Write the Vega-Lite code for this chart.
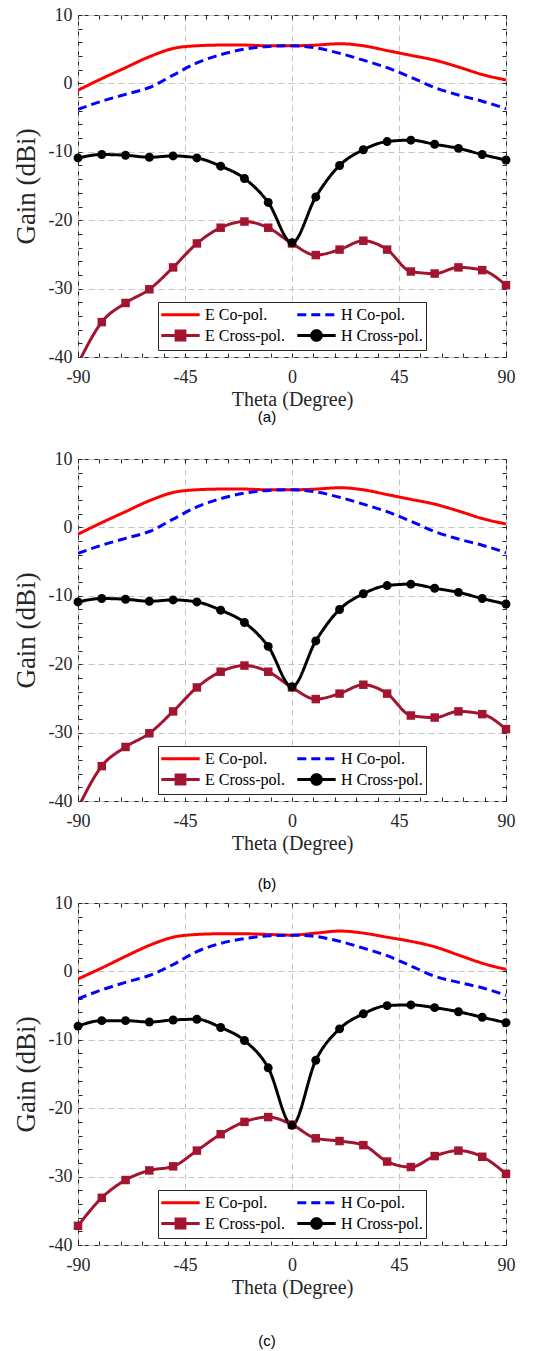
{
  "$schema": "https://vega.github.io/schema/vega-lite/v6.json",
  "padding": {"left": 11, "top": 5, "right": 5, "bottom": 0},
  "bounds": "flush",
  "spacing": 102,
  "resolve": {"scale": {"color": "independent", "strokeDash": "independent"}, "legend": {"color": "independent"}},
  "datasets": {
    "a": [
      {"theta": -90, "gain": -1.0, "series": "E Co-pol."}, {"theta": -80, "gain": 0.7, "series": "E Co-pol."}, {"theta": -70, "gain": 2.3, "series": "E Co-pol."}, {"theta": -60, "gain": 3.9, "series": "E Co-pol."}, {"theta": -50, "gain": 5.1, "series": "E Co-pol."}, {"theta": -40, "gain": 5.5, "series": "E Co-pol."}, {"theta": -30, "gain": 5.6, "series": "E Co-pol."}, {"theta": -20, "gain": 5.6, "series": "E Co-pol."}, {"theta": -10, "gain": 5.5, "series": "E Co-pol."}, {"theta": 0, "gain": 5.5, "series": "E Co-pol."}, {"theta": 10, "gain": 5.6, "series": "E Co-pol."}, {"theta": 20, "gain": 5.8, "series": "E Co-pol."}, {"theta": 30, "gain": 5.5, "series": "E Co-pol."}, {"theta": 40, "gain": 4.8, "series": "E Co-pol."}, {"theta": 50, "gain": 4.1, "series": "E Co-pol."}, {"theta": 60, "gain": 3.4, "series": "E Co-pol."}, {"theta": 70, "gain": 2.4, "series": "E Co-pol."}, {"theta": 80, "gain": 1.3, "series": "E Co-pol."}, {"theta": 90, "gain": 0.5, "series": "E Co-pol."},
      {"theta": -90, "gain": -3.8, "series": "H Co-pol."}, {"theta": -80, "gain": -2.6, "series": "H Co-pol."}, {"theta": -70, "gain": -1.6, "series": "H Co-pol."}, {"theta": -60, "gain": -0.6, "series": "H Co-pol."}, {"theta": -50, "gain": 1.2, "series": "H Co-pol."}, {"theta": -40, "gain": 3.0, "series": "H Co-pol."}, {"theta": -30, "gain": 4.2, "series": "H Co-pol."}, {"theta": -20, "gain": 5.0, "series": "H Co-pol."}, {"theta": -10, "gain": 5.4, "series": "H Co-pol."}, {"theta": 0, "gain": 5.5, "series": "H Co-pol."}, {"theta": 10, "gain": 5.2, "series": "H Co-pol."}, {"theta": 20, "gain": 4.4, "series": "H Co-pol."}, {"theta": 30, "gain": 3.4, "series": "H Co-pol."}, {"theta": 40, "gain": 2.3, "series": "H Co-pol."}, {"theta": 50, "gain": 0.9, "series": "H Co-pol."}, {"theta": 60, "gain": -0.6, "series": "H Co-pol."}, {"theta": 70, "gain": -1.7, "series": "H Co-pol."}, {"theta": 80, "gain": -2.6, "series": "H Co-pol."}, {"theta": 90, "gain": -3.7, "series": "H Co-pol."},
      {"theta": -90, "gain": -41, "series": "E Cross-pol."}, {"theta": -80, "gain": -34.9, "series": "E Cross-pol."}, {"theta": -70, "gain": -32.1, "series": "E Cross-pol."}, {"theta": -60, "gain": -30.1, "series": "E Cross-pol."}, {"theta": -50, "gain": -26.9, "series": "E Cross-pol."}, {"theta": -40, "gain": -23.4, "series": "E Cross-pol."}, {"theta": -30, "gain": -21.1, "series": "E Cross-pol."}, {"theta": -20, "gain": -20.2, "series": "E Cross-pol."}, {"theta": -10, "gain": -21.1, "series": "E Cross-pol."}, {"theta": 0, "gain": -23.4, "series": "E Cross-pol."}, {"theta": 10, "gain": -25.1, "series": "E Cross-pol."}, {"theta": 20, "gain": -24.3, "series": "E Cross-pol."}, {"theta": 30, "gain": -23.0, "series": "E Cross-pol."}, {"theta": 40, "gain": -24.3, "series": "E Cross-pol."}, {"theta": 50, "gain": -27.5, "series": "E Cross-pol."}, {"theta": 60, "gain": -27.8, "series": "E Cross-pol."}, {"theta": 70, "gain": -26.9, "series": "E Cross-pol."}, {"theta": 80, "gain": -27.3, "series": "E Cross-pol."}, {"theta": 90, "gain": -29.5, "series": "E Cross-pol."},
      {"theta": -90, "gain": -10.9, "series": "H Cross-pol."}, {"theta": -80, "gain": -10.4, "series": "H Cross-pol."}, {"theta": -70, "gain": -10.5, "series": "H Cross-pol."}, {"theta": -60, "gain": -10.8, "series": "H Cross-pol."}, {"theta": -50, "gain": -10.6, "series": "H Cross-pol."}, {"theta": -40, "gain": -10.9, "series": "H Cross-pol."}, {"theta": -30, "gain": -12.1, "series": "H Cross-pol."}, {"theta": -20, "gain": -13.9, "series": "H Cross-pol."}, {"theta": -10, "gain": -17.4, "series": "H Cross-pol."}, {"theta": 0, "gain": -23.3, "series": "H Cross-pol."}, {"theta": 10, "gain": -16.6, "series": "H Cross-pol."}, {"theta": 20, "gain": -12.0, "series": "H Cross-pol."}, {"theta": 30, "gain": -9.7, "series": "H Cross-pol."}, {"theta": 40, "gain": -8.5, "series": "H Cross-pol."}, {"theta": 50, "gain": -8.3, "series": "H Cross-pol."}, {"theta": 60, "gain": -8.9, "series": "H Cross-pol."}, {"theta": 70, "gain": -9.5, "series": "H Cross-pol."}, {"theta": 80, "gain": -10.4, "series": "H Cross-pol."}, {"theta": 90, "gain": -11.2, "series": "H Cross-pol."}
    ],
    "b": [
      {"theta": -90, "gain": -1.0, "series": "E Co-pol."}, {"theta": -80, "gain": 0.7, "series": "E Co-pol."}, {"theta": -70, "gain": 2.3, "series": "E Co-pol."}, {"theta": -60, "gain": 3.9, "series": "E Co-pol."}, {"theta": -50, "gain": 5.1, "series": "E Co-pol."}, {"theta": -40, "gain": 5.5, "series": "E Co-pol."}, {"theta": -30, "gain": 5.6, "series": "E Co-pol."}, {"theta": -20, "gain": 5.6, "series": "E Co-pol."}, {"theta": -10, "gain": 5.5, "series": "E Co-pol."}, {"theta": 0, "gain": 5.5, "series": "E Co-pol."}, {"theta": 10, "gain": 5.6, "series": "E Co-pol."}, {"theta": 20, "gain": 5.8, "series": "E Co-pol."}, {"theta": 30, "gain": 5.5, "series": "E Co-pol."}, {"theta": 40, "gain": 4.8, "series": "E Co-pol."}, {"theta": 50, "gain": 4.1, "series": "E Co-pol."}, {"theta": 60, "gain": 3.4, "series": "E Co-pol."}, {"theta": 70, "gain": 2.4, "series": "E Co-pol."}, {"theta": 80, "gain": 1.3, "series": "E Co-pol."}, {"theta": 90, "gain": 0.5, "series": "E Co-pol."},
      {"theta": -90, "gain": -3.8, "series": "H Co-pol."}, {"theta": -80, "gain": -2.6, "series": "H Co-pol."}, {"theta": -70, "gain": -1.6, "series": "H Co-pol."}, {"theta": -60, "gain": -0.6, "series": "H Co-pol."}, {"theta": -50, "gain": 1.2, "series": "H Co-pol."}, {"theta": -40, "gain": 3.0, "series": "H Co-pol."}, {"theta": -30, "gain": 4.2, "series": "H Co-pol."}, {"theta": -20, "gain": 5.0, "series": "H Co-pol."}, {"theta": -10, "gain": 5.4, "series": "H Co-pol."}, {"theta": 0, "gain": 5.5, "series": "H Co-pol."}, {"theta": 10, "gain": 5.2, "series": "H Co-pol."}, {"theta": 20, "gain": 4.4, "series": "H Co-pol."}, {"theta": 30, "gain": 3.4, "series": "H Co-pol."}, {"theta": 40, "gain": 2.3, "series": "H Co-pol."}, {"theta": 50, "gain": 0.9, "series": "H Co-pol."}, {"theta": 60, "gain": -0.6, "series": "H Co-pol."}, {"theta": 70, "gain": -1.7, "series": "H Co-pol."}, {"theta": 80, "gain": -2.6, "series": "H Co-pol."}, {"theta": 90, "gain": -3.7, "series": "H Co-pol."},
      {"theta": -90, "gain": -41, "series": "E Cross-pol."}, {"theta": -80, "gain": -34.9, "series": "E Cross-pol."}, {"theta": -70, "gain": -32.1, "series": "E Cross-pol."}, {"theta": -60, "gain": -30.1, "series": "E Cross-pol."}, {"theta": -50, "gain": -26.9, "series": "E Cross-pol."}, {"theta": -40, "gain": -23.4, "series": "E Cross-pol."}, {"theta": -30, "gain": -21.1, "series": "E Cross-pol."}, {"theta": -20, "gain": -20.2, "series": "E Cross-pol."}, {"theta": -10, "gain": -21.1, "series": "E Cross-pol."}, {"theta": 0, "gain": -23.4, "series": "E Cross-pol."}, {"theta": 10, "gain": -25.1, "series": "E Cross-pol."}, {"theta": 20, "gain": -24.3, "series": "E Cross-pol."}, {"theta": 30, "gain": -23.0, "series": "E Cross-pol."}, {"theta": 40, "gain": -24.3, "series": "E Cross-pol."}, {"theta": 50, "gain": -27.5, "series": "E Cross-pol."}, {"theta": 60, "gain": -27.8, "series": "E Cross-pol."}, {"theta": 70, "gain": -26.9, "series": "E Cross-pol."}, {"theta": 80, "gain": -27.3, "series": "E Cross-pol."}, {"theta": 90, "gain": -29.5, "series": "E Cross-pol."},
      {"theta": -90, "gain": -10.9, "series": "H Cross-pol."}, {"theta": -80, "gain": -10.4, "series": "H Cross-pol."}, {"theta": -70, "gain": -10.5, "series": "H Cross-pol."}, {"theta": -60, "gain": -10.8, "series": "H Cross-pol."}, {"theta": -50, "gain": -10.6, "series": "H Cross-pol."}, {"theta": -40, "gain": -10.9, "series": "H Cross-pol."}, {"theta": -30, "gain": -12.1, "series": "H Cross-pol."}, {"theta": -20, "gain": -13.9, "series": "H Cross-pol."}, {"theta": -10, "gain": -17.4, "series": "H Cross-pol."}, {"theta": 0, "gain": -23.3, "series": "H Cross-pol."}, {"theta": 10, "gain": -16.6, "series": "H Cross-pol."}, {"theta": 20, "gain": -12.0, "series": "H Cross-pol."}, {"theta": 30, "gain": -9.7, "series": "H Cross-pol."}, {"theta": 40, "gain": -8.5, "series": "H Cross-pol."}, {"theta": 50, "gain": -8.3, "series": "H Cross-pol."}, {"theta": 60, "gain": -8.9, "series": "H Cross-pol."}, {"theta": 70, "gain": -9.5, "series": "H Cross-pol."}, {"theta": 80, "gain": -10.4, "series": "H Cross-pol."}, {"theta": 90, "gain": -11.2, "series": "H Cross-pol."}
    ],
    "c": [
      {"theta": -90, "gain": -1.1, "series": "E Co-pol."}, {"theta": -80, "gain": 0.5, "series": "E Co-pol."}, {"theta": -70, "gain": 2.2, "series": "E Co-pol."}, {"theta": -60, "gain": 3.8, "series": "E Co-pol."}, {"theta": -50, "gain": 5.0, "series": "E Co-pol."}, {"theta": -40, "gain": 5.4, "series": "E Co-pol."}, {"theta": -30, "gain": 5.5, "series": "E Co-pol."}, {"theta": -20, "gain": 5.5, "series": "E Co-pol."}, {"theta": -10, "gain": 5.4, "series": "E Co-pol."}, {"theta": 0, "gain": 5.3, "series": "E Co-pol."}, {"theta": 10, "gain": 5.6, "series": "E Co-pol."}, {"theta": 20, "gain": 5.9, "series": "E Co-pol."}, {"theta": 30, "gain": 5.6, "series": "E Co-pol."}, {"theta": 40, "gain": 5.0, "series": "E Co-pol."}, {"theta": 50, "gain": 4.4, "series": "E Co-pol."}, {"theta": 60, "gain": 3.6, "series": "E Co-pol."}, {"theta": 70, "gain": 2.4, "series": "E Co-pol."}, {"theta": 80, "gain": 1.2, "series": "E Co-pol."}, {"theta": 90, "gain": 0.3, "series": "E Co-pol."},
      {"theta": -90, "gain": -4.0, "series": "H Co-pol."}, {"theta": -80, "gain": -2.7, "series": "H Co-pol."}, {"theta": -70, "gain": -1.6, "series": "H Co-pol."}, {"theta": -60, "gain": -0.6, "series": "H Co-pol."}, {"theta": -50, "gain": 1.0, "series": "H Co-pol."}, {"theta": -40, "gain": 2.9, "series": "H Co-pol."}, {"theta": -30, "gain": 4.1, "series": "H Co-pol."}, {"theta": -20, "gain": 4.8, "series": "H Co-pol."}, {"theta": -10, "gain": 5.2, "series": "H Co-pol."}, {"theta": 0, "gain": 5.3, "series": "H Co-pol."}, {"theta": 10, "gain": 5.1, "series": "H Co-pol."}, {"theta": 20, "gain": 4.4, "series": "H Co-pol."}, {"theta": 30, "gain": 3.4, "series": "H Co-pol."}, {"theta": 40, "gain": 2.3, "series": "H Co-pol."}, {"theta": 50, "gain": 0.8, "series": "H Co-pol."}, {"theta": 60, "gain": -0.7, "series": "H Co-pol."}, {"theta": 70, "gain": -1.6, "series": "H Co-pol."}, {"theta": 80, "gain": -2.4, "series": "H Co-pol."}, {"theta": 90, "gain": -3.5, "series": "H Co-pol."},
      {"theta": -90, "gain": -37.2, "series": "E Cross-pol."}, {"theta": -80, "gain": -33.1, "series": "E Cross-pol."}, {"theta": -70, "gain": -30.5, "series": "E Cross-pol."}, {"theta": -60, "gain": -29.1, "series": "E Cross-pol."}, {"theta": -50, "gain": -28.5, "series": "E Cross-pol."}, {"theta": -40, "gain": -26.2, "series": "E Cross-pol."}, {"theta": -30, "gain": -23.8, "series": "E Cross-pol."}, {"theta": -20, "gain": -22.0, "series": "E Cross-pol."}, {"theta": -10, "gain": -21.3, "series": "E Cross-pol."}, {"theta": 0, "gain": -22.4, "series": "E Cross-pol."}, {"theta": 10, "gain": -24.4, "series": "E Cross-pol."}, {"theta": 20, "gain": -24.8, "series": "E Cross-pol."}, {"theta": 30, "gain": -25.4, "series": "E Cross-pol."}, {"theta": 40, "gain": -27.8, "series": "E Cross-pol."}, {"theta": 50, "gain": -28.6, "series": "E Cross-pol."}, {"theta": 60, "gain": -27.0, "series": "E Cross-pol."}, {"theta": 70, "gain": -26.2, "series": "E Cross-pol."}, {"theta": 80, "gain": -27.1, "series": "E Cross-pol."}, {"theta": 90, "gain": -29.6, "series": "E Cross-pol."},
      {"theta": -90, "gain": -8.0, "series": "H Cross-pol."}, {"theta": -80, "gain": -7.2, "series": "H Cross-pol."}, {"theta": -70, "gain": -7.2, "series": "H Cross-pol."}, {"theta": -60, "gain": -7.4, "series": "H Cross-pol."}, {"theta": -50, "gain": -7.1, "series": "H Cross-pol."}, {"theta": -40, "gain": -7.0, "series": "H Cross-pol."}, {"theta": -30, "gain": -8.2, "series": "H Cross-pol."}, {"theta": -20, "gain": -10.1, "series": "H Cross-pol."}, {"theta": -10, "gain": -14.1, "series": "H Cross-pol."}, {"theta": 0, "gain": -22.5, "series": "H Cross-pol."}, {"theta": 10, "gain": -13.0, "series": "H Cross-pol."}, {"theta": 20, "gain": -8.4, "series": "H Cross-pol."}, {"theta": 30, "gain": -6.2, "series": "H Cross-pol."}, {"theta": 40, "gain": -5.0, "series": "H Cross-pol."}, {"theta": 50, "gain": -4.9, "series": "H Cross-pol."}, {"theta": 60, "gain": -5.3, "series": "H Cross-pol."}, {"theta": 70, "gain": -5.9, "series": "H Cross-pol."}, {"theta": 80, "gain": -6.7, "series": "H Cross-pol."}, {"theta": 90, "gain": -7.5, "series": "H Cross-pol."}
    ]
  },
  "vconcat": [
    {
      "width": 428, "height": 342,
      "title": {"text": "(a)", "orient": "bottom", "anchor": "middle", "dx": -25, "offset": 1, "font": "Liberation Sans", "fontSize": 15, "fontWeight": "normal", "color": "#000000"},
      "data": {"name": "a"},
      "layer": [
        {"mark": {"type": "line", "interpolate": "monotone", "strokeWidth": 3, "clip": true},
         "encoding": {
           "x": {"field": "theta", "type": "quantitative", "scale": {"domain": [-90, 90], "nice": false},
                 "axis": {"orient": "bottom", "values": [-90,-81,-72,-63,-54,-45,-36,-27,-18,-9,0,9,18,27,36,45,54,63,72,81,90], "labelExpr": "datum.value % 45 === 0 ? '' + datum.value : ''", "title": "Theta (Degree)", "grid": true, "gridOpacity": {"condition": {"test": "datum.value % 45 === 0", "value": 1}, "value": 0}, "tickSize": -4, "domain": false, "labelFlush": false, "labelOverlap": false, "labelBound": false, "labelPadding": 15, "titlePadding": 3, "titleFontSize": 20}},
           "y": {"field": "gain", "type": "quantitative", "scale": {"domain": [-40, 10], "nice": false},
                 "axis": {"orient": "left", "values": [-40,-38,-36,-34,-32,-30,-28,-26,-24,-22,-20,-18,-16,-14,-12,-10,-8,-6,-4,-2,0,2,4,6,8,10], "labelExpr": "datum.value % 10 === 0 ? '' + datum.value : ''", "title": "Gain (dBi)", "grid": true, "gridOpacity": {"condition": {"test": "datum.value % 10 === 0", "value": 1}, "value": 0}, "tickSize": -4, "domain": false, "labelFlush": false, "labelOverlap": false, "labelBound": false, "labelPadding": 10, "titlePadding": 8, "titleFontSize": 27}},
           "color": {"field": "series", "type": "nominal", "sort": null,
                     "scale": {"domain": ["E Co-pol.", "H Co-pol.", "E Cross-pol.", "H Cross-pol."], "range": ["#ff0000", "#0000ff", "#a2142f", "#000000"]},
                     "legend": {"orient": "none", "legendX": 80, "legendY": 287, "title": null, "columns": 2, "direction": "horizontal", "symbolSize": 256, "symbolStrokeWidth": 3, "symbolOffset": 10, "labelOffset": 15, "labelFont": "Liberation Serif", "labelFontSize": 16, "labelColor": "#000000", "strokeColor": "#262626", "fillColor": "#ffffff", "padding": 3, "rowPadding": 1, "columnPadding": 6,
                                "encode": {"symbols": {"update": {
                                  "shape": {"signal": "datum.value === 'E Cross-pol.' ? 'M-2.4,0H2.4M-0.55,-0.55H0.55V0.55H-0.55Z' : (datum.value === 'H Cross-pol.' ? 'M-2.4,0H2.4M0.6,0A0.6,0.6,0,1,1,-0.6,0A0.6,0.6,0,1,1,0.6,0Z' : 'M-2.4,0H2.4')"},
                                  "fill": {"signal": "datum.value === 'E Cross-pol.' ? '#a2142f' : (datum.value === 'H Cross-pol.' ? '#000000' : 'transparent')"},
                                  "strokeDash": {"signal": "datum.value === 'H Co-pol.' ? [8, 4] : [1, 0]"}
                                }}}}},
           "strokeDash": {"field": "series", "type": "nominal", "scale": {"domain": ["E Co-pol.", "H Co-pol.", "E Cross-pol.", "H Cross-pol."], "range": [[1, 0], [9, 5], [1, 0], [1, 0]]}, "legend": null}
         }},
        {"transform": [{"filter": "datum.series === 'E Cross-pol.' && datum.gain >= -40"}],
         "mark": {"type": "point", "shape": "square", "filled": true, "color": "#a2142f", "size": 72, "opacity": 1},
         "encoding": {
           "x": {"field": "theta", "type": "quantitative", "axis": {"orient": "top", "values": [-90,-81,-72,-63,-54,-45,-36,-27,-18,-9,0,9,18,27,36,45,54,63,72,81,90], "labels": false, "grid": false, "title": null, "tickSize": -4, "domain": false}},
           "y": {"field": "gain", "type": "quantitative", "axis": {"orient": "right", "values": [-40,-38,-36,-34,-32,-30,-28,-26,-24,-22,-20,-18,-16,-14,-12,-10,-8,-6,-4,-2,0,2,4,6,8,10], "labels": false, "grid": false, "title": null, "tickSize": -4, "domain": false}}
         }},
        {"transform": [{"filter": "datum.series === 'H Cross-pol.'"}],
         "mark": {"type": "point", "shape": "circle", "filled": true, "color": "#000000", "size": 80, "opacity": 1},
         "encoding": {
           "x": {"field": "theta", "type": "quantitative", "axis": null},
           "y": {"field": "gain", "type": "quantitative", "axis": null}
         }}
      ],
      "resolve": {"axis": {"x": "independent", "y": "independent"}}
    },
    {
      "width": 428, "height": 342,
      "title": {"text": "(b)", "orient": "bottom", "anchor": "middle", "dx": -25, "offset": 24, "font": "Liberation Sans", "fontSize": 15, "fontWeight": "normal", "color": "#000000"},
      "data": {"name": "b"},
      "layer": [
        {"mark": {"type": "line", "interpolate": "monotone", "strokeWidth": 3, "clip": true},
         "encoding": {
           "x": {"field": "theta", "type": "quantitative", "scale": {"domain": [-90, 90], "nice": false},
                 "axis": {"orient": "bottom", "values": [-90,-81,-72,-63,-54,-45,-36,-27,-18,-9,0,9,18,27,36,45,54,63,72,81,90], "labelExpr": "datum.value % 45 === 0 ? '' + datum.value : ''", "title": "Theta (Degree)", "grid": true, "gridOpacity": {"condition": {"test": "datum.value % 45 === 0", "value": 1}, "value": 0}, "tickSize": -4, "domain": false, "labelFlush": false, "labelOverlap": false, "labelBound": false, "labelPadding": 15, "titlePadding": 3, "titleFontSize": 20}},
           "y": {"field": "gain", "type": "quantitative", "scale": {"domain": [-40, 10], "nice": false},
                 "axis": {"orient": "left", "values": [-40,-38,-36,-34,-32,-30,-28,-26,-24,-22,-20,-18,-16,-14,-12,-10,-8,-6,-4,-2,0,2,4,6,8,10], "labelExpr": "datum.value % 10 === 0 ? '' + datum.value : ''", "title": "Gain (dBi)", "grid": true, "gridOpacity": {"condition": {"test": "datum.value % 10 === 0", "value": 1}, "value": 0}, "tickSize": -4, "domain": false, "labelFlush": false, "labelOverlap": false, "labelBound": false, "labelPadding": 10, "titlePadding": 8, "titleFontSize": 27}},
           "color": {"field": "series", "type": "nominal", "sort": null,
                     "scale": {"domain": ["E Co-pol.", "H Co-pol.", "E Cross-pol.", "H Cross-pol."], "range": ["#ff0000", "#0000ff", "#a2142f", "#000000"]},
                     "legend": {"orient": "none", "legendX": 80, "legendY": 287, "title": null, "columns": 2, "direction": "horizontal", "symbolSize": 256, "symbolStrokeWidth": 3, "symbolOffset": 10, "labelOffset": 15, "labelFont": "Liberation Serif", "labelFontSize": 16, "labelColor": "#000000", "strokeColor": "#262626", "fillColor": "#ffffff", "padding": 3, "rowPadding": 1, "columnPadding": 6,
                                "encode": {"symbols": {"update": {
                                  "shape": {"signal": "datum.value === 'E Cross-pol.' ? 'M-2.4,0H2.4M-0.55,-0.55H0.55V0.55H-0.55Z' : (datum.value === 'H Cross-pol.' ? 'M-2.4,0H2.4M0.6,0A0.6,0.6,0,1,1,-0.6,0A0.6,0.6,0,1,1,0.6,0Z' : 'M-2.4,0H2.4')"},
                                  "fill": {"signal": "datum.value === 'E Cross-pol.' ? '#a2142f' : (datum.value === 'H Cross-pol.' ? '#000000' : 'transparent')"},
                                  "strokeDash": {"signal": "datum.value === 'H Co-pol.' ? [8, 4] : [1, 0]"}
                                }}}}},
           "strokeDash": {"field": "series", "type": "nominal", "scale": {"domain": ["E Co-pol.", "H Co-pol.", "E Cross-pol.", "H Cross-pol."], "range": [[1, 0], [9, 5], [1, 0], [1, 0]]}, "legend": null}
         }},
        {"transform": [{"filter": "datum.series === 'E Cross-pol.' && datum.gain >= -40"}],
         "mark": {"type": "point", "shape": "square", "filled": true, "color": "#a2142f", "size": 72, "opacity": 1},
         "encoding": {
           "x": {"field": "theta", "type": "quantitative", "axis": {"orient": "top", "values": [-90,-81,-72,-63,-54,-45,-36,-27,-18,-9,0,9,18,27,36,45,54,63,72,81,90], "labels": false, "grid": false, "title": null, "tickSize": -4, "domain": false}},
           "y": {"field": "gain", "type": "quantitative", "axis": {"orient": "right", "values": [-40,-38,-36,-34,-32,-30,-28,-26,-24,-22,-20,-18,-16,-14,-12,-10,-8,-6,-4,-2,0,2,4,6,8,10], "labels": false, "grid": false, "title": null, "tickSize": -4, "domain": false}}
         }},
        {"transform": [{"filter": "datum.series === 'H Cross-pol.'"}],
         "mark": {"type": "point", "shape": "circle", "filled": true, "color": "#000000", "size": 80, "opacity": 1},
         "encoding": {
           "x": {"field": "theta", "type": "quantitative", "axis": null},
           "y": {"field": "gain", "type": "quantitative", "axis": null}
         }}
      ],
      "resolve": {"axis": {"x": "independent", "y": "independent"}}
    },
    {
      "width": 428, "height": 342,
      "title": {"text": "(c)", "orient": "bottom", "anchor": "middle", "dx": -25, "offset": 37, "font": "Liberation Sans", "fontSize": 15, "fontWeight": "normal", "color": "#000000"},
      "data": {"name": "c"},
      "layer": [
        {"mark": {"type": "line", "interpolate": "monotone", "strokeWidth": 3, "clip": true},
         "encoding": {
           "x": {"field": "theta", "type": "quantitative", "scale": {"domain": [-90, 90], "nice": false},
                 "axis": {"orient": "bottom", "values": [-90,-81,-72,-63,-54,-45,-36,-27,-18,-9,0,9,18,27,36,45,54,63,72,81,90], "labelExpr": "datum.value % 45 === 0 ? '' + datum.value : ''", "title": "Theta (Degree)", "grid": true, "gridOpacity": {"condition": {"test": "datum.value % 45 === 0", "value": 1}, "value": 0}, "tickSize": -4, "domain": false, "labelFlush": false, "labelOverlap": false, "labelBound": false, "labelPadding": 15, "titlePadding": 3, "titleFontSize": 20}},
           "y": {"field": "gain", "type": "quantitative", "scale": {"domain": [-40, 10], "nice": false},
                 "axis": {"orient": "left", "values": [-40,-38,-36,-34,-32,-30,-28,-26,-24,-22,-20,-18,-16,-14,-12,-10,-8,-6,-4,-2,0,2,4,6,8,10], "labelExpr": "datum.value % 10 === 0 ? '' + datum.value : ''", "title": "Gain (dBi)", "grid": true, "gridOpacity": {"condition": {"test": "datum.value % 10 === 0", "value": 1}, "value": 0}, "tickSize": -4, "domain": false, "labelFlush": false, "labelOverlap": false, "labelBound": false, "labelPadding": 10, "titlePadding": 8, "titleFontSize": 27}},
           "color": {"field": "series", "type": "nominal", "sort": null,
                     "scale": {"domain": ["E Co-pol.", "H Co-pol.", "E Cross-pol.", "H Cross-pol."], "range": ["#ff0000", "#0000ff", "#a2142f", "#000000"]},
                     "legend": {"orient": "none", "legendX": 80, "legendY": 287, "title": null, "columns": 2, "direction": "horizontal", "symbolSize": 256, "symbolStrokeWidth": 3, "symbolOffset": 10, "labelOffset": 15, "labelFont": "Liberation Serif", "labelFontSize": 16, "labelColor": "#000000", "strokeColor": "#262626", "fillColor": "#ffffff", "padding": 3, "rowPadding": 1, "columnPadding": 6,
                                "encode": {"symbols": {"update": {
                                  "shape": {"signal": "datum.value === 'E Cross-pol.' ? 'M-2.4,0H2.4M-0.55,-0.55H0.55V0.55H-0.55Z' : (datum.value === 'H Cross-pol.' ? 'M-2.4,0H2.4M0.6,0A0.6,0.6,0,1,1,-0.6,0A0.6,0.6,0,1,1,0.6,0Z' : 'M-2.4,0H2.4')"},
                                  "fill": {"signal": "datum.value === 'E Cross-pol.' ? '#a2142f' : (datum.value === 'H Cross-pol.' ? '#000000' : 'transparent')"},
                                  "strokeDash": {"signal": "datum.value === 'H Co-pol.' ? [8, 4] : [1, 0]"}
                                }}}}},
           "strokeDash": {"field": "series", "type": "nominal", "scale": {"domain": ["E Co-pol.", "H Co-pol.", "E Cross-pol.", "H Cross-pol."], "range": [[1, 0], [9, 5], [1, 0], [1, 0]]}, "legend": null}
         }},
        {"transform": [{"filter": "datum.series === 'E Cross-pol.' && datum.gain >= -40"}],
         "mark": {"type": "point", "shape": "square", "filled": true, "color": "#a2142f", "size": 72, "opacity": 1},
         "encoding": {
           "x": {"field": "theta", "type": "quantitative", "axis": {"orient": "top", "values": [-90,-81,-72,-63,-54,-45,-36,-27,-18,-9,0,9,18,27,36,45,54,63,72,81,90], "labels": false, "grid": false, "title": null, "tickSize": -4, "domain": false}},
           "y": {"field": "gain", "type": "quantitative", "axis": {"orient": "right", "values": [-40,-38,-36,-34,-32,-30,-28,-26,-24,-22,-20,-18,-16,-14,-12,-10,-8,-6,-4,-2,0,2,4,6,8,10], "labels": false, "grid": false, "title": null, "tickSize": -4, "domain": false}}
         }},
        {"transform": [{"filter": "datum.series === 'H Cross-pol.'"}],
         "mark": {"type": "point", "shape": "circle", "filled": true, "color": "#000000", "size": 80, "opacity": 1},
         "encoding": {
           "x": {"field": "theta", "type": "quantitative", "axis": null},
           "y": {"field": "gain", "type": "quantitative", "axis": null}
         }}
      ],
      "resolve": {"axis": {"x": "independent", "y": "independent"}}
    }
  ],
  "config": {
    "view": {"stroke": "#262626", "strokeWidth": 1},
    "axis": {"labelFont": "Liberation Serif", "labelFontSize": 18, "labelColor": "#262626", "titleFont": "Liberation Serif", "titleFontWeight": "normal", "titleColor": "#262626", "tickColor": "#262626", "tickWidth": 1, "gridColor": "#c4c4c4", "gridDash": [6, 4], "gridWidth": 1}
  }
}
